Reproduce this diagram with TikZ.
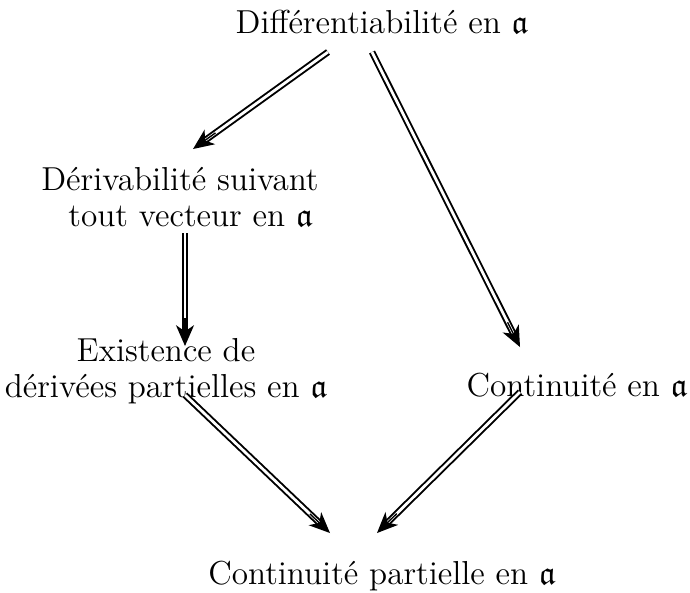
\documentclass[tikz,border=0pt]{standalone}
\usepackage{amssymb}
\usetikzlibrary{arrows.meta,calc}
\begin{document}
\begin{tikzpicture}[x=0.3612pt,y=-0.3612pt,
  lbl/.style={inner sep=0pt,align=center,font=\fontsize{12}{13}\selectfont},
  dbl/.style={double,double distance=1pt,line width=0.7pt,shorten >=4pt},
  tipx/.style={line width=0.5pt,-{Stealth[length=7.5pt,width=6.5pt,inset=2.2pt]}}]
\useasboundingbox (0,0) rectangle (690,592);
\node[lbl] (D) at (382,22) {Différentiabilité en $\mathfrak{a}$};
\node[lbl] (V) at (180,197) {Dérivabilité suivant\\ \hspace*{7.6pt}tout vecteur en $\mathfrak{a}$};
\node[lbl] (E) at (166,371) {Existence de\\ dérivées partielles en $\mathfrak{a}$};
\node[lbl] (C) at (577,385) {Continuité en $\mathfrak{a}$};
\node[lbl] (P) at (382,576) {Continuité partielle en $\mathfrak{a}$};
\coordinate (d1) at (328,52); \coordinate (v1) at (193,149);
\coordinate (d2) at (372,52); \coordinate (c1) at (520,347);
\coordinate (v2) at (185,233); \coordinate (e1) at (185,346);
\coordinate (e2) at (185,395); \coordinate (p1) at (330,533);
\coordinate (c2) at (520,392); \coordinate (p2) at (377,533);
\foreach \a/\b in {d1/v1,d2/c1,v2/e1,e2/p1,c2/p2}{
  \draw[dbl] (\a) -- (\b);
  \draw[tipx] ($(\b)!10pt!(\a)$) -- (\b);
}
\end{tikzpicture}
\end{document}
